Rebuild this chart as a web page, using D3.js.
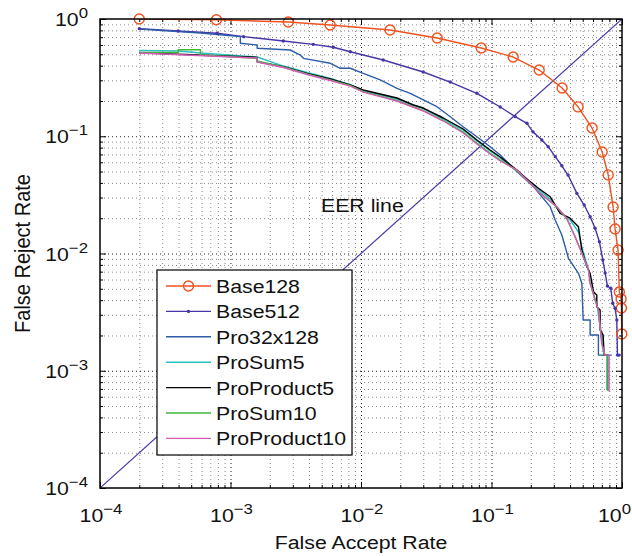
<!DOCTYPE html>
<html><head><meta charset="utf-8">
<script src="https://cdn.jsdelivr.net/npm/d3@7"></script>
<style>body{margin:0;background:#fff} svg{display:block}</style>
</head><body><svg id="c" width="632" height="556"></svg>
<script>
// ---------- data (FAR, FRR) ----------
const seriesNames = ["Base128","Base512","Pro32x128","ProSum5","ProProduct5","ProSum10","ProProduct10"];
const seriesColors = ["#f0521f","#4636a6","#2c5da6","#2bbfc0","#000000","#3cb83c","#d45bb6"];

const base128 = [[0.0002,1.0],[0.00078,0.985],[0.00277,0.943],[0.0058,0.889],[0.0167,0.806],[0.0384,0.689],[0.0834,0.566],[0.1466,0.474],[0.232,0.367],[0.3475,0.258],[0.461,0.178],[0.590,0.1175],[0.705,0.0734],[0.784,0.0468],[0.855,0.0249],[0.885,0.0162],[0.933,0.0107],[0.954,0.0047],[0.984,0.0041],[0.99,0.00343],[0.997,0.00206]];

const base512 = [[0.0002,0.827],[0.000397,0.79],[0.00079,0.755],[0.00126,0.707],[0.00254,0.649],[0.00431,0.608],[0.00614,0.574],[0.00828,0.526],[0.01482,0.447],[0.03,0.353],[0.0483,0.290],[0.0773,0.2325],[0.1166,0.1776],[0.152,0.147],[0.187,0.129],[0.208,0.109],[0.243,0.093],[0.272,0.0815],[0.308,0.067],[0.346,0.056],[0.386,0.0467],[0.451,0.0326],[0.513,0.0259],[0.570,0.0206],[0.622,0.0164],[0.671,0.0126],[0.713,0.0088],[0.743,0.00682],[0.773,0.00528],[0.820,0.00505],[0.849,0.00376],[0.885,0.00341],[0.912,0.00271],[0.923,0.00136],[0.951,0.00136]];

const pro32x128 = [[0.0002,0.822],[0.000588,0.76],[0.00079,0.738],[0.00119,0.707],[0.00119,0.621],[0.0016,0.600],[0.0016,0.563],[0.00287,0.544],[0.00343,0.493],[0.00362,0.462],[0.00582,0.419],[0.00694,0.380],[0.00828,0.380],[0.0104,0.344],[0.01405,0.302],[0.01887,0.256],[0.02385,0.2325],[0.03,0.2038],[0.0382,0.1786],[0.0483,0.1468],[0.0607,0.1206],[0.0773,0.0991],[0.0977,0.0814],[0.1166,0.0692],[0.152,0.0516],[0.2098,0.0371],[0.2815,0.0251],[0.3075,0.0193],[0.346,0.01438],[0.3887,0.0091],[0.4637,0.00678],[0.4923,0.00557],[0.504,0.00271],[0.570,0.00271],[0.570,0.00202],[0.6596,0.00202],[0.6596,0.00136],[0.8354,0.00136]];

const proSum5 = [[0.0002,0.539],[0.000397,0.533],[0.000588,0.513],[0.0016,0.474],[0.00254,0.397],[0.00386,0.350],[0.00582,0.311],[0.00828,0.276],[0.0104,0.2455],[0.01887,0.2078],[0.03,0.1724],[0.0427,0.1403],[0.0607,0.1130],[0.0773,0.0911],[0.0977,0.0748],[0.1166,0.0652],[0.1565,0.0510],[0.1978,0.0399],[0.236,0.0341],[0.2815,0.0292],[0.3357,0.0226],[0.4005,0.0193],[0.4637,0.01526],[0.5037,0.0103],[0.55,0.00752],[0.58,0.00594],[0.6115,0.00434],[0.6445,0.00364],[0.6667,0.00271],[0.7003,0.00202],[0.7294,0.00136],[0.7691,0.00136],[0.7691,0.000685]];

const proProduct5 = [[0.0002,0.516],[0.0016,0.471],[0.0016,0.432],[0.00254,0.392],[0.00386,0.344],[0.00582,0.308],[0.00828,0.274],[0.0104,0.248],[0.01887,0.212],[0.02515,0.1847],[0.03,0.1741],[0.0427,0.1431],[0.0607,0.1153],[0.0773,0.0929],[0.0977,0.0763],[0.1166,0.0665],[0.1565,0.0516],[0.1978,0.0410],[0.229,0.0360],[0.2815,0.0305],[0.3357,0.0220],[0.4005,0.0200],[0.4637,0.0169],[0.4923,0.01071],[0.5375,0.00772],[0.570,0.00678],[0.604,0.00472],[0.641,0.00443],[0.641,0.00352],[0.6796,0.0033],[0.6796,0.00223],[0.7166,0.00202],[0.7294,0.00136],[0.7745,0.00136],[0.7745,0.000685]];

const proSum10 = [[0.0002,0.518],[0.000397,0.518],[0.000397,0.547],[0.000588,0.547],[0.000588,0.493],[0.0016,0.462],[0.0016,0.438],[0.00254,0.390],[0.00386,0.340],[0.00582,0.302],[0.00828,0.271],[0.0104,0.240],[0.01887,0.2018],[0.03,0.1658],[0.0427,0.1362],[0.0607,0.1087],[0.0773,0.0871],[0.0977,0.0715],[0.1166,0.0627],[0.1565,0.0510],[0.236,0.0328],[0.3167,0.0249],[0.3778,0.0197],[0.4374,0.01383],[0.4923,0.0101],[0.5535,0.00723],[0.570,0.0056],[0.6223,0.00401],[0.6596,0.0033],[0.6796,0.00236],[0.7003,0.00172],[0.7294,0.00136],[0.7776,0.00136],[0.7776,0.000672]];

const proProduct10 = [[0.0002,0.513],[0.0016,0.465],[0.0016,0.430],[0.00254,0.386],[0.00386,0.336],[0.00582,0.299],[0.00828,0.268],[0.0104,0.238],[0.01887,0.1998],[0.03,0.1642],[0.0427,0.1349],[0.0607,0.1066],[0.0773,0.0859],[0.0977,0.0706],[0.1166,0.0615],[0.1565,0.0516],[0.236,0.0326],[0.3167,0.0251],[0.3778,0.0200],[0.4374,0.0139],[0.4923,0.01004],[0.5535,0.00723],[0.570,0.00557],[0.6223,0.00401],[0.6596,0.0033],[0.6796,0.00237],[0.7003,0.00171],[0.7424,0.00136],[0.7967,0.00136],[0.7967,0.000663]];

const eerLine = [[0.0001,0.0001],[1,1]];
const majorTicks = [1e-4,1e-3,1e-2,1e-1,1];
const tickExponents = ["\u22124","\u22123","\u22122","\u22121","0"];
const xTitle = "False Accept Rate", yTitle = "False Reject Rate", eerLabel = "EER line";

// ---------- layout ----------
const FONT = "'Liberation Sans', Arial, Helvetica, sans-serif";
const SX = 1.12; // horizontal stretch of the original image text
const L = 100, R = 622, T = 19, B = 488;
const svg = d3.select("#c");
const x = d3.scaleLog().domain([1e-4, 1]).range([L, R]);
const y = d3.scaleLog().domain([1e-4, 1]).range([B, T]);

const minorTicks = [];
for (let k = -4; k < 0; k++) for (let m = 2; m <= 9; m++) minorTicks.push(m * Math.pow(10, k));

// grid
const grid = svg.append("g");
function gridAxis(axis, vals, color, transform) {
  const g = grid.append("g").attr("transform", transform).call(axis.tickValues(vals).tickFormat(""));
  g.select(".domain").remove();
  g.selectAll(".tick line").attr("stroke", color).attr("stroke-dasharray", "1,3").attr("stroke-width", 1);
}
gridAxis(d3.axisBottom(x).tickSize(-(B - T)), minorTicks, "#8a8a8a", `translate(0,${B})`);
gridAxis(d3.axisLeft(y).tickSize(-(R - L)), minorTicks, "#8a8a8a", `translate(${L},0)`);
gridAxis(d3.axisBottom(x).tickSize(-(B - T)), majorTicks.slice(1, -1), "#222", `translate(0,${B})`);
gridAxis(d3.axisLeft(y).tickSize(-(R - L)), majorTicks.slice(1, -1), "#222", `translate(${L},0)`);

// ticks (inside, all four sides)
const tickG = svg.append("g");
function tickAxis(axis, vals, size, transform) {
  const g = tickG.append("g").attr("transform", transform).call(axis.tickValues(vals).tickSize(size).tickFormat(""));
  g.select(".domain").remove();
  g.selectAll(".tick line").attr("stroke", "#000").attr("stroke-width", 1);
}
tickAxis(d3.axisBottom(x), majorTicks, -6, `translate(0,${B})`);
tickAxis(d3.axisBottom(x), minorTicks, -3, `translate(0,${B})`);
tickAxis(d3.axisTop(x), majorTicks, -6, `translate(0,${T})`);
tickAxis(d3.axisTop(x), minorTicks, -3, `translate(0,${T})`);
tickAxis(d3.axisLeft(y), majorTicks, -6, `translate(${L},0)`);
tickAxis(d3.axisLeft(y), minorTicks, -3, `translate(${L},0)`);
tickAxis(d3.axisRight(y), majorTicks, -6, `translate(${R},0)`);
tickAxis(d3.axisRight(y), minorTicks, -3, `translate(${R},0)`);

// clip
svg.append("clipPath").attr("id", "clip").append("rect").attr("x", L).attr("y", T).attr("width", R - L).attr("height", B - T);
const plot = svg.append("g").attr("clip-path", "url(#clip)");
const line = d3.line().x(d => x(d[0])).y(d => y(d[1]));

// EER line
plot.append("path").attr("d", line(eerLine)).attr("fill", "none").attr("stroke", "#4a3da8").attr("stroke-width", 1.2);

const allSeries = [base128, base512, pro32x128, proSum5, proProduct5, proSum10, proProduct10];
allSeries.forEach((s, i) => {
  plot.append("path").attr("d", line(s)).attr("fill", "none")
    .attr("stroke", seriesColors[i]).attr("stroke-width", 1.4).attr("stroke-linejoin", "round");
});
// markers
svg.append("g").selectAll("circle").data(base128).join("circle")
  .attr("cx", d => x(d[0])).attr("cy", d => y(d[1])).attr("r", 5)
  .attr("fill", "none").attr("stroke", seriesColors[0]).attr("stroke-width", 1.4);
svg.append("g").selectAll("circle").data(base512).join("circle")
  .attr("cx", d => x(d[0])).attr("cy", d => y(d[1])).attr("r", 1.7)
  .attr("fill", seriesColors[1]);

// box
svg.append("rect").attr("x", L).attr("y", T).attr("width", R - L).attr("height", B - T)
  .attr("fill", "none").attr("stroke", "#000").attr("stroke-width", 1.5);

// text helper
function stext(px, py, anchor, size, rot) {
  const g = svg.append("g").attr("transform", `translate(${px},${py}) scale(${SX},1)` + (rot ? ` rotate(${rot})` : ""));
  return g.append("text").attr("text-anchor", anchor).attr("font-family", FONT)
    .attr("font-size", size).attr("fill", "#111");
}
function powLabel(t, e) {
  t.append("tspan").text("10");
  t.append("tspan").attr("font-size", 15).attr("dy", -8).text(e);
}
majorTicks.forEach((v, i) => {
  const last = i === majorTicks.length - 1;
  powLabel(stext(last ? 631 : x(v) + 1, 522, last ? "end" : "middle", 19), tickExponents[i]);
  powLabel(stext(88, y(v) + 7, "end", 19), tickExponents[i]);
});
stext((L + R) / 2, 549, "middle", 19).text(xTitle);
stext(30, (T + B) / 2, "middle", 20, -90).text(yTitle);
stext(321, 212, "start", 19).text(eerLabel);

// legend
const lg = svg.append("g");
lg.append("rect").attr("x", 157).attr("y", 270).attr("width", 195).attr("height", 185)
  .attr("fill", "#fff").attr("stroke", "#000").attr("stroke-width", 1.2);
seriesNames.forEach((n, i) => {
  const ry = 286 + i * 25.4;
  lg.append("line").attr("x1", 166).attr("x2", 211).attr("y1", ry).attr("y2", ry)
    .attr("stroke", seriesColors[i]).attr("stroke-width", 1.4);
  if (i === 0) lg.append("circle").attr("cx", 188.5).attr("cy", ry).attr("r", 5).attr("fill", "none").attr("stroke", seriesColors[0]).attr("stroke-width", 1.4);
  if (i === 1) lg.append("circle").attr("cx", 188.5).attr("cy", ry).attr("r", 1.7).attr("fill", seriesColors[1]);
  stext(216, ry + 7, "start", 19).text(n);
});
</script></body></html>
